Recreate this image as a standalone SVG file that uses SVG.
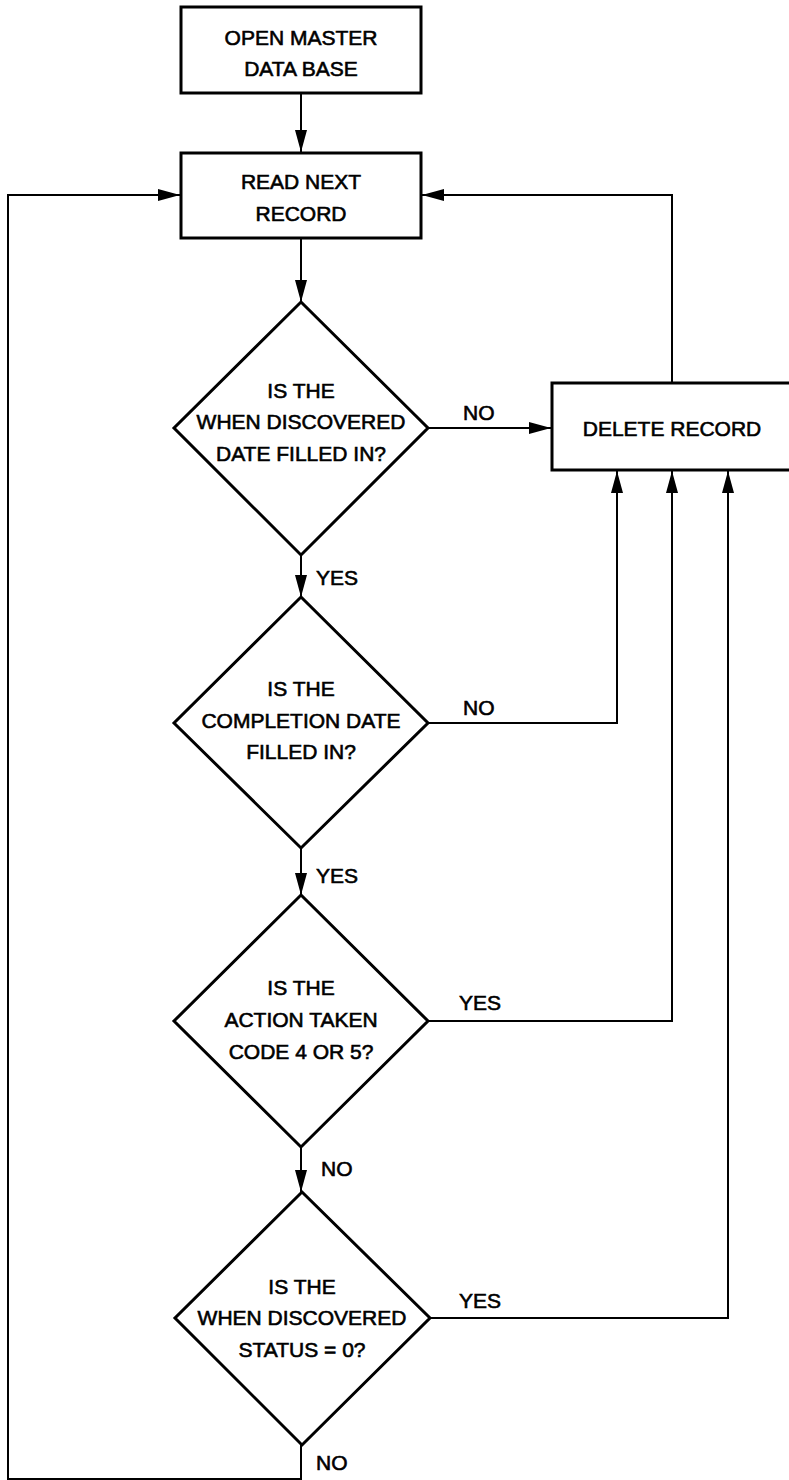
<svg xmlns="http://www.w3.org/2000/svg" width="789" height="1480" viewBox="0 0 789 1480">
<style>
.box{fill:#fff;stroke:#000;stroke-width:3}
.dia{fill:#fff;stroke:#000;stroke-width:3;stroke-linejoin:miter}
.t{font-family:"Liberation Sans",Arial,sans-serif;font-size:21px;fill:#000;stroke:#000;stroke-width:0.6;text-anchor:middle}
.lbl{font-family:"Liberation Sans",Arial,sans-serif;font-size:21px;fill:#000;stroke:#000;stroke-width:0.6}
.c{fill:none;stroke:#000;stroke-width:2}
</style>
<defs>
<marker id="ah" markerUnits="userSpaceOnUse" markerWidth="22" markerHeight="12" refX="22" refY="6" orient="auto">
<path d="M0,0 L22,6 L0,12 z" fill="#000"/>
</marker>
</defs>
<rect width="789" height="1480" fill="#fff"/>
<g id="connectors">
<path class="c" d="M301,93 L301,152" marker-end="url(#ah)"/>
<path class="c" d="M301,238 L301,302" marker-end="url(#ah)"/>
<path class="c" d="M301,555 L301,597" marker-end="url(#ah)"/>
<path class="c" d="M301,848 L301,895" marker-end="url(#ah)"/>
<path class="c" d="M301,1147 L301,1192" marker-end="url(#ah)"/>
<path class="c" d="M301,1445 L301,1479 L8,1479 L8,195 L180,195" marker-end="url(#ah)"/>
<path class="c" d="M428,428 L551,428" marker-end="url(#ah)"/>
<path class="c" d="M428,723 L617,723 L617,471" marker-end="url(#ah)"/>
<path class="c" d="M428,1021 L672,1021 L672,471" marker-end="url(#ah)"/>
<path class="c" d="M430,1318 L728,1318 L728,471" marker-end="url(#ah)"/>
<path class="c" d="M672,383 L672,195 L422,195" marker-end="url(#ah)"/>
<text class="lbl" x="463" y="420">NO</text>
<text class="lbl" x="316" y="585">YES</text>
<text class="lbl" x="463" y="715">NO</text>
<text class="lbl" x="316" y="883">YES</text>
<text class="lbl" x="459" y="1010">YES</text>
<text class="lbl" x="321" y="1176">NO</text>
<text class="lbl" x="459" y="1308">YES</text>
<text class="lbl" x="316" y="1470">NO</text>
</g>
<g id="open-master">
<rect class="box" x="181" y="7" width="240" height="86"/>
<text class="t" x="301" y="45">OPEN MASTER</text>
<text class="t" x="301" y="76">DATA BASE</text>
</g>
<g id="read-next">
<rect class="box" x="181" y="153" width="240" height="85"/>
<text class="t" x="301" y="189">READ NEXT</text>
<text class="t" x="301" y="221">RECORD</text>
</g>
<g id="delete-record">
<rect class="box" x="552" y="383" width="240" height="87"/>
<text class="t" x="672" y="436">DELETE RECORD</text>
</g>
<g id="decision-1">
<polygon class="dia" points="301,302 428,428 301,555 174,428"/>
<text class="t" x="301" y="398">IS THE</text>
<text class="t" x="301" y="429">WHEN DISCOVERED</text>
<text class="t" x="301" y="461">DATE FILLED IN?</text>
</g>
<g id="decision-2">
<polygon class="dia" points="301,597 428,723 301,848 174,723"/>
<text class="t" x="301" y="696">IS THE</text>
<text class="t" x="301" y="728">COMPLETION DATE</text>
<text class="t" x="301" y="759">FILLED IN?</text>
</g>
<g id="decision-3">
<polygon class="dia" points="301,895 428,1021 301,1147 174,1021"/>
<text class="t" x="301" y="995">IS THE</text>
<text class="t" x="301" y="1027">ACTION TAKEN</text>
<text class="t" x="301" y="1059">CODE 4 OR 5?</text>
</g>
<g id="decision-4">
<polygon class="dia" points="302,1192 430,1318 302,1445 175,1318"/>
<text class="t" x="302" y="1294">IS THE</text>
<text class="t" x="302" y="1325">WHEN DISCOVERED</text>
<text class="t" x="302" y="1357">STATUS = 0?</text>
</g>
</svg>
